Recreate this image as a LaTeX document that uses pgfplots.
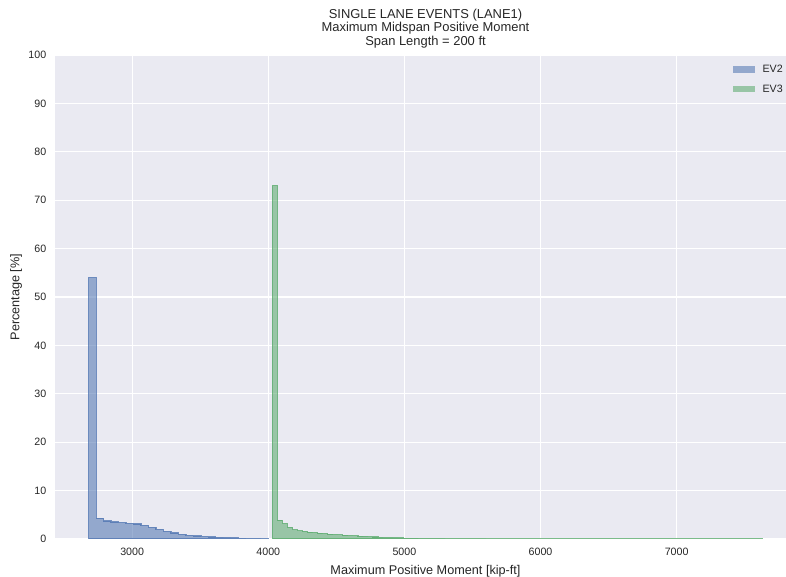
\documentclass[border=0pt]{standalone}
\usepackage{pgfplots}
\pgfplotsset{compat=1.18}
\usepackage{fontspec}
\setmainfont{Liberation Sans}
\usetikzlibrary{calc}
\definecolor{bgc}{HTML}{EAEAF2}
\definecolor{ev2}{HTML}{4C72B0}
\definecolor{ev3}{HTML}{55A868}
\definecolor{txt}{HTML}{262626}
\begin{document}
\begin{tikzpicture}
\begin{axis}[
  scale only axis,
  width=555.75pt, height=363pt,
  xmin=2433, xmax=7877, ymin=0, ymax=100,
  xtick={3000,4000,5000,6000,7000},
  ytick={0,10,...,100},
  major tick length=0pt,
  axis line style={draw=none},
  axis background/.style={fill=bgc},
  grid=major,
  major grid style={white, line width=0.9pt},
  /pgf/number format/assume math mode=true,
  /pgf/number format/1000 sep={},
  tick label style={font=\fontsize{8}{9.6}\selectfont, text=txt},
  xticklabel style={yshift=-3.5pt},
  yticklabel style={xshift=-3pt},
  label style={font=\fontsize{9.5}{11}\selectfont, text=txt},
  xlabel={Maximum Positive Moment [kip-ft]},
  ylabel={Percentage [\%]},
  ylabel style={yshift=-2pt},
  title={SINGLE LANE EVENTS (LANE1)\\Maximum Midspan Positive Moment\\Span Length = 200 ft},
  title style={align=center, font=\fontsize{9.7}{10.2}\selectfont, text=txt, yshift=-4.5pt},
  legend cell align=left,
  legend style={draw=none, fill=none, at={(rel axis cs:0.9150,0.985)}, anchor=north west,
    font=\fontsize{8}{9.6}\selectfont, text=txt, inner sep=0pt, row sep=3.5pt,
    nodes={inner xsep=5.5pt}},
  legend image code/.code={\fill[#1, draw=none] (0pt,-2.2pt) rectangle (16.5pt,2.6pt);},
]
\addplot[const plot, fill=ev2, fill opacity=0.55, draw=ev2, draw opacity=0.75, line width=0.9pt]
coordinates {
(2680,54.0) (2735,4.3) (2790,3.7) (2845,3.5) (2900,3.4) (2955,3.25) (3010,3.1)
(3065,2.8) (3120,2.4) (3175,2.0) (3230,1.6) (3285,1.25) (3340,0.95) (3395,0.75)
(3450,0.6) (3505,0.5) (3560,0.4) (3615,0.33) (3670,0.27) (3725,0.22) (3780,0.18)
(3835,0.14) (3890,0.11) (3945,0.08) (4000,0.08)
} \closedcycle;
\addlegendentry{EV2}
\addplot[const plot, fill=ev3, fill opacity=0.55, draw=ev3, draw opacity=0.75, line width=0.9pt]
coordinates {
(4030,73.0) (4067,3.9) (4104,3.2) (4141,2.4) (4178,1.9) (4215,1.7) (4252,1.55)
(4289,1.4) (4326,1.3) (4363,1.2) (4400,1.1) (4437,1.0) (4474,0.92) (4511,0.86)
(4548,0.8) (4585,0.72) (4622,0.65) (4659,0.58) (4696,0.52) (4733,0.46) (4770,0.4)
(4807,0.35) (4844,0.3) (4881,0.26) (4918,0.22) (4955,0.19) (4992,0.16)
(5100,0.12) (5300,0.08) (5600,0.05) (6000,0.04) (6500,0.03) (7000,0.02) (7630,0.02)
} \closedcycle;
\addlegendentry{EV3}
\end{axis}
\pgfresetboundingbox
\path[use as bounding box] ($(current axis.south west)+(-41.25pt,-28.5pt)$) rectangle ($(current axis.south west)+(548.25pt,404.25pt)$);
\end{tikzpicture}
\end{document}
